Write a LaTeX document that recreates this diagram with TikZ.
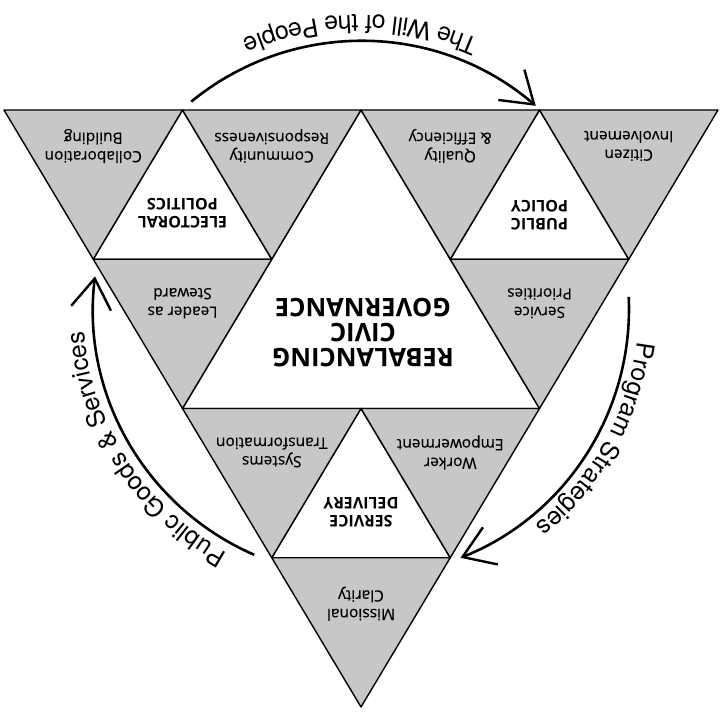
\documentclass[tikz,border=0pt]{standalone}
\usepackage{fontspec}
\setmainfont{Open Sans}
\newfontfamily\trifont[FakeBold=0.3]{Open Sans}
\newfontfamily\arcfont{TeX Gyre Heros}
\usetikzlibrary{arrows.meta, calc, decorations.text}

\begin{document}
\begin{tikzpicture}[x=1pt, y=1pt]
        \tikzstyle{graytri} = [fill=black!22, draw=black, line width=1.4pt, line join=round]
        \tikzstyle{whitetri} = [fill=white, draw=black, line width=1.4pt, line join=round]
        \tikzstyle{tritext} = [rotate=180, align=center, font=\trifont\fontsize{15.5}{18.5}\selectfont]
        \tikzstyle{polename} = [rotate=180, align=center, font=\bfseries\fontsize{16}{18}\selectfont]
        \tikzstyle{flow} = [draw, line width=2.6pt, -{Straight Barb[length=30pt, width=40pt, line width=2.4pt]}]
        \tikzstyle{arctext} = [decorate, decoration={text along path, text align=center}]

        \useasboundingbox (0,0) rectangle (721,712);

        % Grid of corners
        \foreach \r in {0,...,4} {
            \pgfmathtruncatemacro{\kmax}{4-\r}
            \foreach \k in {0,...,\kmax}
                \coordinate (p-\r-\k) at ({4+89.25*\r+178.5*\k}, {602-149.25*\r});
        }
        \coordinate (ctr) at (361,403);

        % Triangles
        \draw[whitetri] (p-0-2) -- (p-2-0) -- (p-2-2) -- cycle;
        \draw[whitetri] (p-0-1) -- (p-1-0) -- (p-1-1) -- cycle;
        \draw[whitetri] (p-0-3) -- (p-1-2) -- (p-1-3) -- cycle;
        \draw[whitetri] (p-2-1) -- (p-3-0) -- (p-3-1) -- cycle;
        \foreach \r/\k in {0/0, 0/1, 0/2, 0/3, 1/0, 1/2, 2/0, 2/1, 3/0} {
            \pgfmathtruncatemacro{\kn}{\k+1}
            \pgfmathtruncatemacro{\rn}{\r+1}
            \draw[graytri] (p-\r-\k) -- (p-\r-\kn) -- (p-\rn-\k) -- cycle;
        }

        % Nodes
        \node [tritext] (collab) at ($(p-0-0)!0.5!(p-0-1)+(0,-36)$) {Collaboration\\Building};
        \node [tritext] (commun) at ($(p-0-1)!0.5!(p-0-2)+(0,-36)$) {Community\\Responsiveness};
        \node [tritext] (quality) at ($(p-0-2)!0.5!(p-0-3)+(0,-36)$) {Quality\\\& Efficiency};
        \node [tritext] (citizen) at ($(p-0-3)!0.5!(p-0-4)+(0,-36)$) {Citizen\\Involvement};
        \node [tritext] (leader) at ($(p-1-0)!0.5!(p-1-1)+(0,-44)$) {Leader as\\Steward};
        \node [tritext] (priority) at ($(p-1-2)!0.5!(p-1-3)+(0,-44)$) {Service\\Priorities};
        \node [tritext] (systems) at ($(p-2-0)!0.5!(p-2-1)+(0,-44)$) {Systems\\Transformation};
        \node [tritext] (worker) at ($(p-2-1)!0.5!(p-2-2)+(0,-44)$) {Worker\\Empowerment};
        \node [tritext] (mission) at ($(p-3-0)!0.5!(p-3-1)+(0,-46)$) {Missional\\Clarity};

        \node [polename] (electoral) at ($(p-1-0)!0.5!(p-1-1)+(0,46)$) {ELECTORAL\\POLITICS};
        \node [polename] (policy) at ($(p-1-2)!0.5!(p-1-3)+(0,44)$) {PUBLIC\\POLICY};
        \node [polename] (delivery) at ($(p-3-0)!0.5!(p-3-1)+(0,45)$) {SERVICE\\DELIVERY};
        \node [rotate=180, align=center, font=\bfseries\fontsize{25.5}{25}\selectfont] (civic) at ($(p-2-0)!0.5!(p-2-2)+(2,76)$) {REBALANCING\\CIVIC\\GOVERNANCE};

        % Paths
        \draw[flow] ($(ctr)+(129.3:268)$) arc[start angle=129.3, end angle=49.3, radius=268];
        \draw[flow] ($(ctr)+(2.6:268)$) arc[start angle=2.6, end angle=-68.2, radius=268];
        \draw[flow] ($(ctr)+(246.5:268)$) arc[start angle=246.5, end angle=173, radius=268];

        \path[arctext, decoration={text={|\arcfont\fontsize{25}{28}\selectfont|The Will of the People}}]
            ($(ctr)+(30:294)$) arc[start angle=30, end angle=150, radius=294];
        \path[arctext, decoration={text={|\arcfont\fontsize{25}{28}\selectfont|Program Strategies}}]
            ($(ctr)+(31:278)$) arc[start angle=31, end angle=-89, radius=278];
        \path[arctext, decoration={text={|\arcfont\fontsize{25}{28}\selectfont|Public Goods {\&} Services}}]
            ($(ctr)+(273:278)$) arc[start angle=273, end angle=153, radius=278];
\end{tikzpicture}
\end{document}
